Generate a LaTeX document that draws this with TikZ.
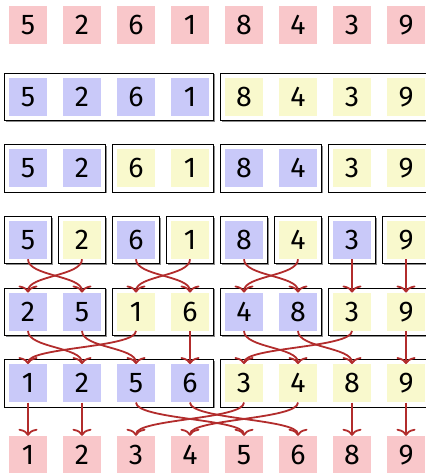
\documentclass[tikz,border=0pt]{standalone}
\usepackage{fontspec}
\setmainfont{Fira Sans}
\usetikzlibrary{arrows.meta,fit,backgrounds,shadows}
\definecolor{pk}{RGB}{249,199,202}
\definecolor{bl}{RGB}{201,201,249}
\definecolor{yl}{RGB}{249,249,205}
\definecolor{arc}{RGB}{178,44,44}
\tikzset{
 cell/.style={minimum width=38pt,minimum height=38pt,inner sep=0pt,font=\fontsize{28.5}{28.5}\selectfont},
 grp/.style={draw=black,line width=0.9pt,inner sep=4.5pt,fill=white,
   drop shadow={shadow xshift=1.3pt,shadow yshift=-1.3pt,fill=black!45,opacity=1}},
 arr/.style={draw=arc,line width=1.8pt,-{Computer Modern Rightarrow[length=7pt,width=19pt]}}
}
\newcommand\crv[2]{\draw[arr] (#1.south) .. controls +(0,17) and +(0,-17) .. (#2.north);}
\newcommand\str[2]{\draw[arr] (#1.south) -- (#2.north);}
\begin{document}
\begin{tikzpicture}[x=1pt,y=-1pt]
\useasboundingbox (0,0) rectangle (425,473);
\foreach \v/\c [count=\i] in {5/pk,2/pk,6/pk,1/pk,8/pk,4/pk,3/pk,9/pk}
  \node[cell,fill=\c] (r1c\i) at ({28+54*(\i-1)},25) {\v};
\foreach \v/\c [count=\i] in {5/bl,2/bl,6/bl,1/bl,8/yl,4/yl,3/yl,9/yl}
  \node[cell,fill=\c] (r2c\i) at ({28+54*(\i-1)},96.7) {\v};
\foreach \v/\c [count=\i] in {5/bl,2/bl,6/yl,1/yl,8/bl,4/bl,3/yl,9/yl}
  \node[cell,fill=\c] (r3c\i) at ({28+54*(\i-1)},168.3) {\v};
\foreach \v/\c [count=\i] in {5/bl,2/yl,6/bl,1/yl,8/bl,4/yl,3/bl,9/yl}
  \node[cell,fill=\c] (r4c\i) at ({28+54*(\i-1)},240) {\v};
\foreach \v/\c [count=\i] in {2/bl,5/bl,1/yl,6/yl,4/bl,8/bl,3/yl,9/yl}
  \node[cell,fill=\c] (r5c\i) at ({28+54*(\i-1)},311.7) {\v};
\foreach \v/\c [count=\i] in {1/bl,2/bl,5/bl,6/bl,3/yl,4/yl,8/yl,9/yl}
  \node[cell,fill=\c] (r6c\i) at ({28+54*(\i-1)},383.3) {\v};
\foreach \v/\c [count=\i] in {1/pk,2/pk,3/pk,4/pk,5/pk,6/pk,8/pk,9/pk}
  \node[cell,fill=\c] (r7c\i) at ({28+54*(\i-1)},455) {\v};
\begin{scope}[on background layer]
  \node[grp,fit=(r2c1)(r2c4)] (f2a) {};
  \node[grp,fit=(r2c5)(r2c8)] (f2b) {};
  \node[grp,fit=(r3c1)(r3c2)] (f3a) {};
  \node[grp,fit=(r3c3)(r3c4)] (f3b) {};
  \node[grp,fit=(r3c5)(r3c6)] (f3c) {};
  \node[grp,fit=(r3c7)(r3c8)] (f3d) {};
  \foreach \i in {1,...,8} \node[grp,fit=(r4c\i)] (f4\i) {};
  \node[grp,fit=(r5c1)(r5c2)] (f5a) {};
  \node[grp,fit=(r5c3)(r5c4)] (f5b) {};
  \node[grp,fit=(r5c5)(r5c6)] (f5c) {};
  \node[grp,fit=(r5c7)(r5c8)] (f5d) {};
  \node[grp,fit=(r6c1)(r6c4)] (f6a) {};
  \node[grp,fit=(r6c5)(r6c8)] (f6b) {};
\end{scope}
% row 4 -> 5
\crv{r4c1}{r5c2}\crv{r4c2}{r5c1}\crv{r4c3}{r5c4}\crv{r4c4}{r5c3}
\crv{r4c5}{r5c6}\crv{r4c6}{r5c5}\str{r4c7}{r5c7}\str{r4c8}{r5c8}
% row 5 -> 6
\crv{r5c1}{r6c2}\crv{r5c2}{r6c3}\crv{r5c3}{r6c1}\str{r5c4}{r6c4}
\crv{r5c5}{r6c6}\crv{r5c6}{r6c7}\crv{r5c7}{r6c5}\str{r5c8}{r6c8}
% row 6 -> 7
\str{r6c1}{r7c1}\str{r6c2}{r7c2}\crv{r6c3}{r7c5}\crv{r6c4}{r7c6}
\crv{r6c5}{r7c3}\crv{r6c6}{r7c4}\str{r6c7}{r7c7}\str{r6c8}{r7c8}
\end{tikzpicture}
\end{document}
